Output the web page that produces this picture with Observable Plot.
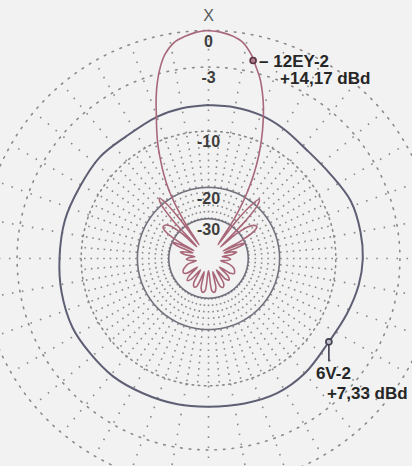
<!DOCTYPE html>
<html><head><meta charset="utf-8">
<script src="https://cdn.jsdelivr.net/npm/d3@7"></script>
<script src="https://cdn.jsdelivr.net/npm/@observablehq/plot@0.6"></script>
<style>
html,body{margin:0;padding:0;background:#f2f2f2;}
#chart svg{display:block;}
</style></head><body><div id="chart"></div>
<script>
// ---- data (angle clockwise from X direction, dB relative to 12EY-2 maximum) ----
const yagiName = "12EY-2";
const yagiGain = "+14,17 dBd";
const vertName = "6V-2";
const vertGain = "+7,33 dBd";
const topLabel = "X";

const yagiAngles = [0,3,6,9,12,14,16,18,20,22,24,26,28,30,31.5,33,34.5,
  36.5,38.5,40.5,42.5,44.5,46,
  48.5,51,54,56.5,59,61.5,63,
  65,67,69,71,
  74,77,80,83,
  88,92,96,100,
  105,110,115,120,124,128,
  132,136,140,145,
  149,153,157,162,
  166,170,174,180,
  186,190,194,198,
  203,207,211,215,
  220,224,228,232,
  236,240,245,250,255,260,
  264,268,272,277,
  280,283,286,290,
  292,294,296,298,
  299.5,302,304.6,307.5,310.5,313,315.5,
  317,319,320.8,322.5,324,325.5,
  327,328.5,330,332,334,336,338,340,342,344,346,348,351,354,357,360];
const yagiDb = [0,-0.1,-0.3,-0.7,-1.6,-2.5,-3.4,-4.6,-6.0,-7.7,-9.6,-11.8,-14.5,-18.0,-21.5,-27,-45,
  -28,-21,-18.4,-19.5,-25,-45,
  -31,-26,-24,-23.5,-25,-31,-45,
  -34,-30,-33,-45,
  -39,-35.5,-38,-48,
  -42,-40,-43,-50,
  -41,-37,-35.5,-35,-37,-48,
  -37,-35,-36.5,-48,
  -35,-33.5,-34.5,-48,
  -34.5,-32.5,-33.5,-50,
  -33.5,-32.5,-34.5,-48,
  -34.5,-33.8,-35.5,-48,
  -36.5,-34.5,-37,-48,
  -37,-35.5,-36,-38,-41,-50,
  -43,-40,-42,-48,
  -38,-35.5,-39,-45,
  -33,-30,-33,-45,
  -32,-26,-24.3,-24.5,-26,-31,-45,
  -25,-19.5,-18.5,-20.5,-27,-45,
  -27,-21.5,-18.0,-15.0,-12.6,-10.4,-8.6,-6.9,-5.1,-3.6,-2.4,-1.5,-0.7,-0.35,-0.1,0];

const vertAngles = [0,10,20,30,42,55,68,80,90,100,112,125,140,153,166,180,192,206,219,231,243,257,270,285,299,313,326,340,350,360];
const vertDb = [-6.8,-6.8,-6.9,-7.2,-7.6,-7.4,-6.8,-6.7,-6.7,-6.9,-7.3,-7.6,-7.2,-7.05,-7.25,-7.4,-7.3,-7.2,-7.0,-7.0,-6.9,-7.1,-7.3,-7.35,-7.5,-7.35,-7.5,-7.1,-6.9,-6.8];

const yagiMarker = [12.7, -2.0];
const vertMarker = [124.7, -7.6];

const ringLevels = [0, -3, -10, -20, -30];
const ringLabels = ["0", "-3", "-10", "-20", "-30"];
const dottedRings = [0, -3, -10];
const solidRings = [-20, -30];

// ---- ARRL log-periodic radius ----
const rad = db => Math.pow(0.89, -db / 2);
const toX = (a, db) => rad(db) * Math.sin(a * Math.PI / 180);
const toY = (a, db) => rad(db) * Math.cos(a * Math.PI / 180);

const yagi = yagiAngles.map((a, i) => ({a, db: yagiDb[i]}));
const vert = vertAngles.map((a, i) => ({a, db: vertDb[i]}));
const ringPts = lv => d3.range(0, 361, 1).map(a => ({a, db: lv, lv}));
const innerRadials = d3.range(0, 360, 5);
const outerRadials = d3.range(0, 360, 10);

const W = 412, H = 466, CX = 208, CY = 258, R0 = 228;

const chart = Plot.plot({
  width: W, height: H,
  margin: 0,
  style: {background: "#f2f2f2", fontFamily: "'Liberation Sans', Arial, sans-serif"},
  x: {domain: [-CX / R0, (W - CX) / R0], axis: null},
  y: {domain: [-(H - CY) / R0, CY / R0], axis: null},
  marks: [
    // dotted rings
    Plot.line(dottedRings.flatMap(lv => ringPts(lv)).filter(d => d.lv !== -10), {
      x: d => toX(d.a, d.db), y: d => toY(d.a, d.db), z: "lv",
      stroke: "#8a8a8a", strokeWidth: 1.6, strokeDasharray: "1.6,7"
    }),
    Plot.line(ringPts(-10), {
      x: d => toX(d.a, d.db), y: d => toY(d.a, d.db),
      stroke: "#8a8a8a", strokeWidth: 1.6, strokeDasharray: "1.6,4.5"
    }),
    // radials
    Plot.link(innerRadials, {
      x1: a => toX(a, -30), y1: a => toY(a, -30),
      x2: a => toX(a, -10), y2: a => toY(a, -10),
      stroke: "#8a8a8a", strokeWidth: 1.6, strokeDasharray: "1.6,4.8"
    }),
    Plot.link(outerRadials, {
      x1: a => toX(a, -10), y1: a => toY(a, -10),
      x2: a => toX(a, 0), y2: a => toY(a, 0),
      stroke: "#8a8a8a", strokeWidth: 1.6, strokeDasharray: "1.6,8.5"
    }),
    // solid rings
    Plot.line(solidRings.flatMap(lv => ringPts(lv)), {
      x: d => toX(d.a, d.db), y: d => toY(d.a, d.db), z: "lv",
      stroke: "#72727e", strokeWidth: 1.6
    }),
    // 6V-2 pattern
    Plot.line(vert, {
      x: d => toX(d.a, d.db), y: d => toY(d.a, d.db),
      curve: "catmull-rom", stroke: "#5e5e74", strokeWidth: 2
    }),
    // 12EY-2 pattern
    Plot.line(yagi, {
      x: d => toX(d.a, d.db), y: d => toY(d.a, d.db),
      curve: "catmull-rom", stroke: "#a8687a", strokeWidth: 1.6
    }),
    // ring labels
    Plot.text(ringLevels, {
      x: 0, y: lv => rad(lv), text: (lv, i) => ringLabels[i],
      dy: 11, fontSize: 16, fontWeight: "bold", fill: "#3e3e3e",
      textAnchor: "middle", lineAnchor: "middle"
    }),
    Plot.text([topLabel], {
      x: 0, y: rad(0), text: d => d, dy: -15, fontSize: 16, fill: "#5a5a5a",
      textAnchor: "middle", lineAnchor: "middle"
    }),
    // markers
    Plot.dot([yagiMarker], {
      x: d => toX(d[0], d[1]), y: d => toY(d[0], d[1]), r: 3,
      stroke: "#5a3040", strokeWidth: 1.6, fill: "#b08090"
    }),
    Plot.dot([vertMarker], {
      x: d => toX(d[0], d[1]), y: d => toY(d[0], d[1]), r: 3,
      stroke: "#404050", strokeWidth: 1.6, fill: "#c0c0c8"
    }),
    Plot.vector([vertMarker], {
      x: d => toX(d[0], d[1]), y: d => toY(d[0], d[1]),
      length: 16, rotate: 180, anchor: "start", dy: 3,
      shape: {draw(ctx, l) { ctx.moveTo(0, 0); ctx.lineTo(0, -l); }},
      stroke: "#404050", strokeWidth: 1.6
    }),
    // annotations
    Plot.text([yagiMarker], {
      x: d => toX(d[0], d[1]), y: d => toY(d[0], d[1]),
      text: () => "\u2013 " + yagiName, dx: 6, dy: 1,
      fontSize: 17, fontWeight: "bold", fill: "#262626", textAnchor: "start", lineAnchor: "middle"
    }),
    Plot.text([yagiMarker], {
      x: d => toX(d[0], d[1]), y: d => toY(d[0], d[1]),
      text: () => yagiGain, dx: 27, dy: 18,
      fontSize: 17, fontWeight: "bold", fill: "#262626", textAnchor: "start", lineAnchor: "middle"
    }),
    Plot.text([vertMarker], {
      x: d => toX(d[0], d[1]), y: d => toY(d[0], d[1]),
      text: () => vertName, dx: -13, dy: 32,
      fontSize: 17, fontWeight: "bold", fill: "#262626", textAnchor: "start", lineAnchor: "middle"
    }),
    Plot.text([vertMarker], {
      x: d => toX(d[0], d[1]), y: d => toY(d[0], d[1]),
      text: () => vertGain, dx: -2, dy: 52,
      fontSize: 17, fontWeight: "bold", fill: "#262626", textAnchor: "start", lineAnchor: "middle"
    })
  ]
});
document.getElementById("chart").appendChild(chart);
</script>
</body></html>
